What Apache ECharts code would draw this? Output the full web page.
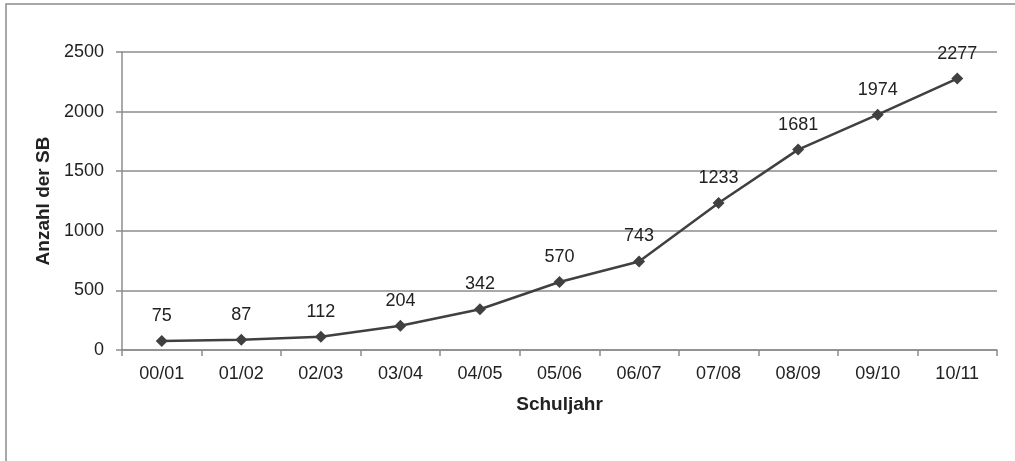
<!DOCTYPE html>
<html>
<head>
<meta charset="utf-8">
<script src="https://cdn.jsdelivr.net/npm/echarts@6/dist/echarts.min.js"></script>
<style>
    html, body { margin: 0; padding: 0; background: #fff; }
    #chart { width: 1015px; height: 461px; }
</style>
</head>
<body>
<div id="chart"></div>
<script>
// Schuljahre und Anzahl der SB
const schuljahre = ['00/01', '01/02', '02/03', '03/04', '04/05', '05/06', '06/07', '07/08', '08/09', '09/10', '10/11'];
const anzahlSB = [75, 87, 112, 204, 342, 570, 743, 1233, 1681, 1974, 2277];

const chart = echarts.init(document.getElementById('chart'));

const font = 'Liberation Sans, Arial, sans-serif';

const option = {
    animation: false,
    backgroundColor: '#fff',
    graphic: [
        {
            type: 'rect',
            shape: { x: 6, y: 4, width: 1020, height: 470 },
            style: { fill: 'none', stroke: '#8c8c8c', lineWidth: 1.5 }
        }
    ],
    grid: {
        left: 122,
        right: 18,
        top: 52,
        bottom: 111
    },
    xAxis: {
        type: 'category',
        data: schuljahre,
        boundaryGap: true,
        name: 'Schuljahr',
        nameLocation: 'middle',
        nameGap: 45,
        nameTextStyle: { fontFamily: font, fontSize: 19, fontWeight: 'bold', color: '#222' },
        axisLine: { lineStyle: { color: '#8c8c8c', width: 1.5 } },
        axisTick: { show: true, length: 6, lineStyle: { color: '#8c8c8c', width: 1.5 } },
        axisLabel: { fontFamily: font, fontSize: 18, color: '#222', margin: 15 }
    },
    yAxis: {
        type: 'value',
        min: 0,
        max: 2500,
        interval: 500,
        name: 'Anzahl der SB',
        nameLocation: 'middle',
        nameGap: 68,
        nameTextStyle: { fontFamily: font, fontSize: 19, fontWeight: 'bold', color: '#222' },
        axisLine: { show: true, lineStyle: { color: '#8c8c8c', width: 1.5 } },
        axisTick: { show: true, length: 6, lineStyle: { color: '#8c8c8c', width: 1.5 } },
        axisLabel: { fontFamily: font, fontSize: 18, color: '#222', margin: 18, formatter: v => String(v) },
        splitLine: { lineStyle: { color: '#8c8c8c', width: 1.5 } }
    },
    series: [
        {
            type: 'line',
            data: anzahlSB,
            symbol: 'diamond',
            symbolSize: 12,
            lineStyle: { color: '#404040', width: 2.5 },
            itemStyle: { color: '#404040' },
            label: {
                show: true,
                position: 'top',
                distance: 10,
                fontFamily: font,
                fontSize: 18,
                color: '#222'
            }
        }
    ]
};

chart.setOption(option);

window.addEventListener('resize', () => {
    chart.resize();
});
</script>
</body>
</html>
